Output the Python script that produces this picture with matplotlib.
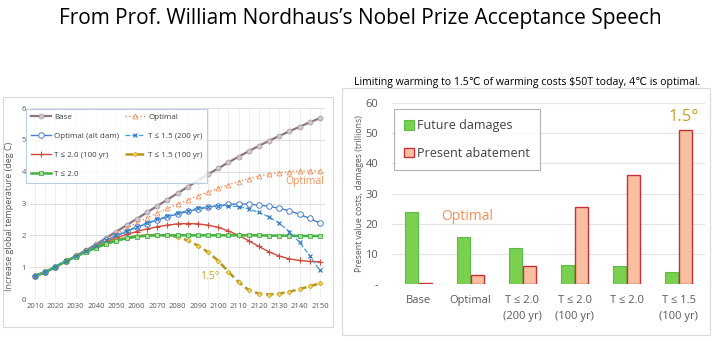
import numpy as np
import matplotlib
matplotlib.use('Agg')
import matplotlib.pyplot as plt
from matplotlib.patches import Rectangle

plt.rcParams['font.family'] = ['Open Sans', 'DejaVu Sans']

# ---- данные, левый график (температура) ----
years = list(range(2010, 2155, 5))
base = [0.72, 0.85, 1.01, 1.18, 1.35, 1.53, 1.72, 1.92, 2.12, 2.32, 2.52, 2.72, 2.92, 3.12, 3.32,
        3.52, 3.72, 3.92, 4.10, 4.29, 4.47, 4.64, 4.81, 4.97, 5.12, 5.27, 5.41, 5.55, 5.68]
optimal = [0.72, 0.85, 1.01, 1.18, 1.34, 1.52, 1.70, 1.88, 2.05, 2.22, 2.39, 2.55, 2.70, 2.85, 2.98,
           3.11, 3.24, 3.36, 3.48, 3.59, 3.69, 3.78, 3.86, 3.92, 3.97, 4.00, 4.02, 4.03, 4.03]
alt_dam = [0.72, 0.85, 1.01, 1.18, 1.34, 1.51, 1.68, 1.84, 1.98, 2.12, 2.25, 2.37, 2.48, 2.58, 2.67,
           2.75, 2.82, 2.88, 2.93, 2.97, 2.99, 2.98, 2.95, 2.91, 2.85, 2.77, 2.66, 2.53, 2.38]
t15_200 = [0.72, 0.85, 1.01, 1.18, 1.34, 1.51, 1.68, 1.85, 2.00, 2.14, 2.27, 2.39, 2.50, 2.60, 2.70,
           2.78, 2.85, 2.90, 2.93, 2.93, 2.90, 2.83, 2.72, 2.58, 2.38, 2.12, 1.78, 1.36, 0.90]
t20_100 = [0.72, 0.85, 1.01, 1.18, 1.34, 1.51, 1.67, 1.80, 1.92, 2.03, 2.12, 2.20, 2.27, 2.32, 2.36,
           2.37, 2.36, 2.32, 2.25, 2.14, 2.00, 1.83, 1.65, 1.48, 1.35, 1.26, 1.21, 1.18, 1.17]
t15_100 = [0.72, 0.85, 1.01, 1.18, 1.34, 1.50, 1.65, 1.76, 1.85, 1.92, 1.97, 2.00, 2.01, 2.00, 1.95,
           1.84, 1.68, 1.47, 1.20, 0.86, 0.53, 0.28, 0.17, 0.14, 0.17, 0.23, 0.31, 0.40, 0.49]
t20 = [0.72, 0.84, 1.01, 1.18, 1.33, 1.48, 1.61, 1.73, 1.83, 1.91, 1.96, 1.99, 2.00, 2.00, 2.00,
       2.00, 2.00, 2.00, 2.00, 2.00, 2.00, 2.00, 2.00, 1.99, 1.99, 1.99, 1.98, 1.98, 1.98]

# ---- данные, правый график (затраты) ----
scenarios = ['Base', 'Optimal', 'T ≤ 2.0\n(200 yr)', 'T ≤ 2.0\n(100 yr)', 'T ≤ 2.0', 'T ≤ 1.5\n(100 yr)']
damages = [24.0, 15.5, 11.8, 6.4, 6.0, 3.9]
abatement = [0.4, 3.0, 6.0, 25.6, 36.0, 51.0]

fig = plt.figure(figsize=(7.2, 3.41), dpi=100)
fig.patch.set_facecolor('white')

fig.text(0.5, 0.945, 'From Prof. William Nordhaus\u2019s Nobel Prize Acceptance Speech',
         ha='center', va='center', fontsize=15, color='black')

# рамки вокруг графиков
W, H = 720, 341
def box(x0, y0, x1, y1):
    fig.patches.append(Rectangle((x0 / W, 1 - y1 / H), (x1 - x0) / W, (y1 - y0) / H,
                                 transform=fig.transFigure, fill=False, ec='#d9d9d9', lw=0.8))
box(3, 97, 333, 327)
box(342, 88, 710, 335)

# ---- левый график ----
ax = fig.add_axes([30 / W, 1 - 299 / H, 295 / W, 191 / H])
ax.set_xlim(2007.5, 2152.5)
ax.set_ylim(0, 6)
ax.set_xticks(range(2010, 2151, 10))
ax.set_xticks(range(2010, 2151, 5), minor=True)
ax.set_yticks(range(0, 7))
ax.grid(True, which='both', axis='x', color='#ececec', lw=0.6)
ax.grid(True, axis='y', color='#dcdcdc', lw=0.6)
ax.set_axisbelow(True)
for s in ax.spines.values():
    s.set_visible(False)
ax.tick_params(axis='both', which='both', length=0, labelsize=5.5, colors='#595959', pad=3)
ax.set_ylabel('Increase global temperature (deg C)', fontsize=6.5, color='#595959')
ax.yaxis.set_label_coords(-0.055, 0.43)

ms = 3.5
h_base, = ax.plot(years, base, '-o', color='#8c7484', lw=1.6, ms=ms, mfc='#d0c8cc', mec='#a8a0a4', mew=0.6,
                  label='Base', zorder=3)
h_opt, = ax.plot(years, optimal, ':^', color='#f0905a', lw=1.0, ms=ms, mfc='none', mec='#f0905a', mew=0.6,
                 label='Optimal', zorder=3)
h_alt, = ax.plot(years, alt_dam, '-o', color='#4a7ec8', lw=1.0, ms=ms + 0.5, mfc='white', mec='#4a7ec8',
                 mew=0.7, label='Optimal (alt dam)', zorder=3)
h_15200, = ax.plot(years, t15_200, '--x', color='#3c9ee0', lw=0.9, ms=ms, mec='#3070b8', mew=0.8,
                   label='T ≤ 1.5 (200 yr)', zorder=4)
h_20100, = ax.plot(years, t20_100, '-+', color='#d24a3c', lw=1.0, ms=ms + 0.5, mew=0.8,
                   label='T ≤ 2.0 (100 yr)', zorder=3)
h_15100, = ax.plot(years, t15_100, '--D', color='#b8961c', lw=1.8, ms=ms - 1, mfc='#f0d060', mec='#c8a020',
                   mew=0.5, dashes=(3, 1.5), label='T ≤ 1.5 (100 yr)', zorder=3)
h_20, = ax.plot(years, t20, '-s', color='#44b044', lw=1.8, ms=ms, mfc='#a8e098', mec='#44b044', mew=0.6,
                label='T ≤ 2.0', zorder=3)

# порядок как в Excel: по строкам
handles = [h_base, h_alt, h_20100, h_20, h_opt, h_15200, h_15100]
leg = ax.legend(handles=handles, loc='upper left', bbox_to_anchor=(-0.02, 1.005), ncol=2, fontsize=5.8,
                frameon=True, fancybox=False, edgecolor='#a8c4e0', handlelength=2.5, columnspacing=0.7,
                labelspacing=1.4, borderpad=0.6, handletextpad=0.4, labelcolor='#404040',
                borderaxespad=0.2)
leg.get_frame().set_linewidth(0.8)

ax.text(2152, 3.7, 'Optimal', color='#f0905a', fontsize=7.5, ha='right', va='center')
ax.text(2091, 0.72, '1.5°', color='#c8a020', fontsize=7.5, ha='left', va='center')

# ---- правый график ----
ax2 = fig.add_axes([392 / W, 1 - 284 / H, 313 / W, 181 / H])
x = np.arange(len(scenarios))
bw = 0.25
ax2.bar(x - bw / 2 - 0.01, damages, bw, color='#7cd050', edgecolor='#5cbc48', lw=0.8,
        label='Future damages', zorder=3)
ax2.bar(x + bw / 2 + 0.01, abatement, bw, color='#f8c0a0', edgecolor='#c83038', lw=1.0,
        label='Present abatement', zorder=3)
ax2.set_xlim(-0.5, 5.5)
ax2.set_ylim(0, 60)
ax2.set_yticks(range(0, 61, 10))
ax2.set_yticklabels(['-'] + [str(v) for v in range(10, 61, 10)])
ax2.set_xticks(x)
ax2.set_xticklabels(scenarios, linespacing=1.6)
ax2.grid(True, axis='y', color='#e4e4e4', lw=0.8)
ax2.set_axisbelow(True)
for s in ax2.spines.values():
    s.set_visible(False)
ax2.axhline(0, color='#d9d9d9', lw=0.8, zorder=2)
ax2.tick_params(axis='both', length=0, labelsize=8, colors='#595959')
ax2.tick_params(axis='x', pad=8)
ax2.tick_params(axis='y', pad=10)
ax2.set_ylabel('Present value costs, damages (trillions)', fontsize=6.2, color='#595959', labelpad=1)

leg2 = ax2.legend(loc='upper left', bbox_to_anchor=(0.005, 0.965), fontsize=9, frameon=True,
                  fancybox=False, edgecolor='#a0a0a0', handlelength=0.8, handleheight=0.8,
                  labelspacing=1.15, borderpad=0.8, handletextpad=0.3, borderaxespad=0,
                  labelcolor='#404040')
leg2.get_frame().set_linewidth(0.8)

ax2.text(0.45, 22.5, 'Optimal', color='#f0905a', fontsize=10, ha='left', va='center')
ax2.text(5.1, 55.5, '1.5°', color='#c8a020', fontsize=12, ha='center', va='center')

fig.text(527 / W, 1 - 83 / H, 'Limiting warming to 1.5\u2103 of warming costs $50T today, 4\u2103 is optimal.',
         ha='center', va='center', fontsize=7.6, color='black')

fig.savefig('out.png', dpi=100)
